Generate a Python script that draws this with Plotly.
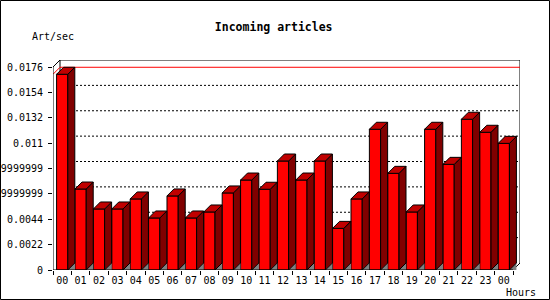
import plotly.graph_objects as go

# ---- data ----
hours = ["00", "01", "02", "03", "04", "05", "06", "07", "08", "09", "10", "11",
         "12", "13", "14", "15", "16", "17", "18", "19", "20", "21", "22", "23", "00"]
values = [0.01697, 0.00702, 0.00529, 0.00529, 0.00616, 0.00451, 0.00642, 0.00451,
          0.00503, 0.00668, 0.0078, 0.0070, 0.00945, 0.0078, 0.00945, 0.00361,
          0.00616, 0.0122, 0.00838, 0.00503, 0.0122, 0.00916, 0.01307, 0.01194, 0.01098]
ytick_vals = [0, 0.0022, 0.0044, 0.0066, 0.0088, 0.011, 0.0132, 0.0154, 0.0176]
ytick_text = ["0", "0.0022", "0.0044", "0.0065999999999999", "0.0087999999999999",
              "0.011", "0.0132", "0.0154", "0.0176"]
title_text = "Incoming articles"
y_label = "Art/sec"
x_label = "Hours"

# ---- geometry (3D look) ----
W, H = 550, 300
ML, MR, MT, MB = 53, 30, 60, 30
n = len(values)
ymax_front = ytick_vals[-1]
plot_w = W - ML - MR
plot_h = H - MT - MB
depth_px = 7
x_front_max = n - 0.5
unit_x = (plot_w - depth_px) / n            # px per category
dx = depth_px / unit_x
unit_y = (plot_h - depth_px) / ymax_front   # px per value unit
dy = depth_px / unit_y
x0 = -0.5
x1 = x_front_max + dx
y1 = ymax_front + dy
bw = 0.61
h = bw / 2

RED = "#ff0000"
SIDE = "#800000"
TOP = "#c00000"

xs = list(range(n))

side_x, side_y, top_x, top_y, tri_x, tri_y = [], [], [], [], [], []
for i, v in zip(xs, values):
    side_x += [i + h, i + h + dx, i + h + dx, i + h, i + h, None]
    side_y += [0, dy, v + dy, v, 0, None]
    top_x += [i - h, i - h + dx, i + h + dx, i + h, i - h, None]
    top_y += [v, v + dy, v + dy, v, v, None]
    tri_x += [i + h, i + h + dx, i + h + dx, i + h, None]
    tri_y += [0, dy, 0, 0, None]

vmax = max(values)

fig = go.Figure()
# front faces
fig.add_trace(go.Bar(x=xs, y=values, width=bw, marker=dict(color=RED, line=dict(color="black", width=1)),
                     hoverinfo="skip", showlegend=False))
# floor shadow triangles
fig.add_trace(go.Scatter(x=tri_x, y=tri_y, mode="lines", fill="toself", fillcolor="#808080",
                         line=dict(width=0, color="#808080"), hoverinfo="skip", showlegend=False))
# max line
fig.add_trace(go.Scatter(x=[x0, x0 + dx, x1], y=[vmax, vmax + dy, vmax + dy], mode="lines",
                         line=dict(color="#ff0000", width=1), hoverinfo="skip", showlegend=False))
# side faces
fig.add_trace(go.Scatter(x=side_x, y=side_y, mode="lines", fill="toself", fillcolor=SIDE,
                         line=dict(color="black", width=1), hoverinfo="skip", showlegend=False))
# top faces
fig.add_trace(go.Scatter(x=top_x, y=top_y, mode="lines", fill="toself", fillcolor=TOP,
                         line=dict(color="black", width=1), hoverinfo="skip", showlegend=False))

shapes = []
# back wall grid lines (dotted)
for t in ytick_vals[1:-1]:
    shapes.append(dict(type="line", xref="x", yref="y", x0=x0 + dx, x1=x1, y0=t + dy, y1=t + dy,
                       line=dict(color="black", width=1, dash="2px,2px"), layer="below"))
# back wall frame
shapes.append(dict(type="path", xref="x", yref="y", layer="below",
                   path=f"M {x0},{ymax_front} L {x0 + dx},{y1} L {x1},{y1} L {x1},{dy} L {x_front_max},0 "
                        f"M {x0 + dx},{y1} L {x0 + dx},{dy}",
                   line=dict(color="black", width=1)))
# front axis lines
shapes.append(dict(type="path", xref="x", yref="y", layer="above",
                   path=f"M {x0},{ymax_front} L {x0},0 L {x_front_max},0",
                   line=dict(color="black", width=1)))
# outer border
shapes.append(dict(type="rect", xref="paper", yref="paper",
                   x0=(0.5 - ML) / plot_w, x1=(W - 0.5 - ML) / plot_w,
                   y0=-(H - 0.5 - MT - plot_h) / plot_h, y1=(plot_h + MT - 0.5) / plot_h,
                   line=dict(color="black", width=1), layer="above"))

font_mono = "DejaVu Sans Mono"

fig.update_layout(
    width=W, height=H,
    margin=dict(l=ML, r=MR, t=MT, b=MB, pad=0, autoexpand=False),
    paper_bgcolor="white", plot_bgcolor="white",
    font=dict(family=font_mono, size=10, color="black"),
    title=dict(text=f"<b>{title_text}</b>", x=273.7 / W, xanchor="center", xref="container",
               y=1 - 27 / H, yanchor="middle", yref="container",
               font=dict(family=font_mono, size=11.5, color="black"), automargin=False),
    shapes=shapes,
    showlegend=False,
    xaxis=dict(range=[x0, x1], tickvals=xs, ticktext=hours, ticks="", showgrid=False,
               zeroline=False, showline=False, fixedrange=True, ticklabelstandoff=3, automargin=False,
               minor=dict(tickvals=[i - 0.5 for i in range(n + 1)], ticks="outside", ticklen=4,
                          tickcolor="black", tickwidth=1, showgrid=False)),
    yaxis=dict(range=[0, y1], tickvals=ytick_vals, ticktext=ytick_text, ticks="outside",
               ticklen=4, tickcolor="black", tickwidth=1, showgrid=False, zeroline=False,
               showline=False, fixedrange=True, ticklabelstandoff=3, automargin=False),
    annotations=[
        dict(text=y_label, xref="paper", yref="paper", x=(30 - ML) / plot_w, y=(plot_h + MT - 37) / plot_h,
             xanchor="left", yanchor="middle", showarrow=False, font=dict(family=font_mono, size=10)),
        dict(text=x_label, xref="paper", yref="paper", x=(504 - ML) / plot_w, y=-(292 - MT - plot_h) / plot_h,
             xanchor="left", yanchor="middle", showarrow=False, font=dict(family=font_mono, size=10)),
    ],
)

fig.write_html("out.html")
